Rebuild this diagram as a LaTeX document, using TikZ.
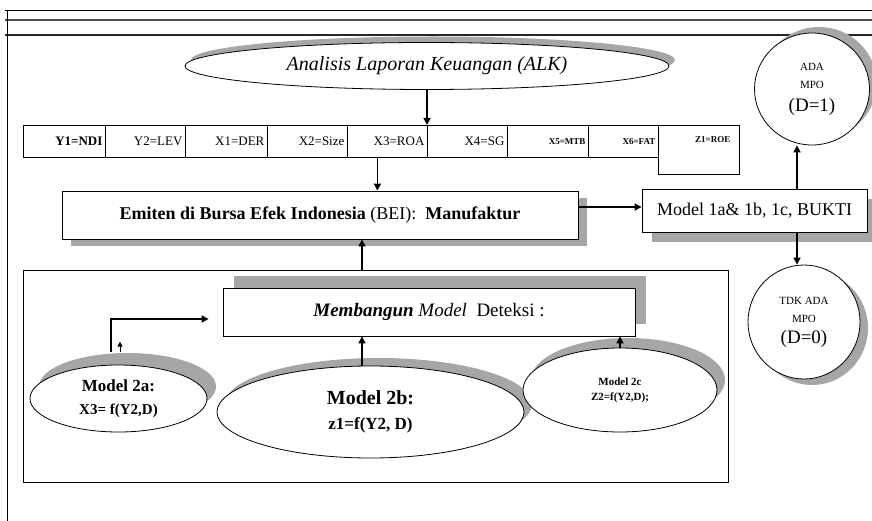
\documentclass[tikz,border=0pt]{standalone}
\usepackage{fontspec}
\setmainfont{Liberation Serif}
\usetikzlibrary{shapes.geometric,shadows,arrows.meta}
\newcommand{\fsz}[2]{\fontsize{#1}{#2}\selectfont}

\begin{document}
\begin{tikzpicture}[x=1pt, y=-1pt,
    box/.style={draw, line width=0.8pt, fill=white, inner sep=0pt},
    oval/.style={ellipse, draw, line width=0.8pt, fill=white, inner sep=0pt, align=center},
    cell/.style={draw, line width=0.8pt, anchor=north west, minimum height=32pt, inner xsep=3pt, align=right},
    arr/.style={line width=1.6pt, -{Triangle[length=7pt, width=7pt]}},
    shd/.style 2 args={drop shadow={shadow xshift=#1, shadow yshift=#2, fill=black!35, opacity=1}},
]
    \useasboundingbox (0,0) rectangle (872,521);
    % frame lines
    \draw[line width=0.6pt] (5,10) -- (872,10);
    \draw[line width=1.2pt, black!70] (5,20) -- (872,20);
    \draw[line width=1.2pt, black!85] (5,35) -- (872,35);
    \draw[line width=0.8pt] (7,10) -- (7,521);
    %
    \node[oval, shd={6pt}{6pt}, minimum width=484pt, minimum height=47pt, font=\itshape\fsz{20}{24}] (alk) at (427,66) {Analisis Laporan Keuangan (ALK)};
    %
    \node[cell, text width=76pt, font=\bfseries\fsz{13}{15}] (cY1) at (23,125) {Y1=NDI};
    \node[cell, text width=74pt, font=\fsz{13}{15}] (cY2) at (105,125) {Y2=LEV};
    \node[cell, text width=76pt, font=\fsz{13}{15}] (cX1) at (185,125) {X1=DER};
    \node[cell, text width=74pt, font=\fsz{13}{15}] (cX2) at (267,125) {X2=Size};
    \node[cell, text width=74pt, font=\fsz{13}{15}] (cX3) at (347,125) {X3=ROA};
    \node[cell, text width=74pt, font=\fsz{13}{15}] (cX4) at (427,125) {X4=SG\hspace*{6pt}};
    \node[cell, text width=75pt, font=\bfseries\fsz{9}{11}] (cX5) at (507,125) {X5=MTB\hspace*{6pt}};
    \node[cell, text width=64pt, font=\bfseries\fsz{9}{11}] (cX6) at (588,125) {X6=FAT};
    \node[cell, text width=75pt, minimum height=49pt,
          label={[anchor=north east, xshift=-6pt, yshift=-8pt, font=\bfseries\fsz{9}{11}]north east:Z1=ROE}] (cZ1) at (658,125) {};
    %
    \node[box, shd={9pt}{-7pt}, minimum width=516pt, minimum height=48pt, font=\fsz{18}{21}] (emiten) at (320,215) {\textbf{Emiten di Bursa Efek Indonesia} (BEI):\ \ \textbf{Manufaktur}};
    \node[box, shd={10pt}{-10pt}, minimum width=225pt, minimum height=43pt, font=\fsz{18}{21}] (mdl1) at (754.5,210.5) {Model 1a\& 1b, 1c, BUKTI};
    \node[oval, shd={7pt}{6pt}, minimum width=115pt, minimum height=112pt, font=\fsz{11}{18}] (ada) at (812,89) {ADA\\MPO\\[5pt]{\fsz{19}{22}(D=1)}};
    \node[oval, shd={8pt}{-6pt}, minimum width=112pt, minimum height=114pt, font=\fsz{11}{18}] (tdk) at (804,322) {TDK ADA\\MPO\\[3pt]{\fsz{19}{22}(D=0)}};
    %
    \node[draw, line width=0.8pt, minimum width=705pt, minimum height=212pt, inner sep=0pt] (bigbox) at (375.5,376) {};
    \node[box, shd={11pt}{12pt}, minimum width=412pt, minimum height=48pt, font=\fsz{19}{22}] (build) at (429,312) {\textbf{\textit{Membangun}} \textit{Model}\ \ Deteksi :};
    \node[oval, shd={9pt}{12pt}, minimum width=177pt, minimum height=67pt, font=\bfseries\fsz{17}{23}] (m2a) at (118.5,398.5) {Model 2a:\\{\fsz{15}{18}X3= f(Y2,D)}};
    \node[oval, shd={8pt}{8pt}, minimum width=307pt, minimum height=92pt, font=\bfseries\fsz{20}{25}] (m2b) at (370.5,412) {Model 2b:\\{\fsz{17}{22}z1=f(Y2, D)}};
    \node[oval, shd={8pt}{10pt}, minimum width=194pt, minimum height=84pt, font=\bfseries\fsz{11}{15}] (m2c) at (620,390) {Model 2c\\Z2=f(Y2,D);};
    %
    \coordinate (c2b) at ([xshift=-8.5pt]m2b.north);
    \draw[arr] (alk.south) -- (alk.south |- cY1.north);
    \draw[arr] ([xshift=-10pt]cX3.south) -- ([xshift=-10pt]cX3.south |- emiten.north);
    \draw[arr] ([yshift=8pt]emiten.east) -- ([yshift=8pt]emiten.east -| mdl1.west);
    \draw[arr] ([xshift=42.5pt]mdl1.north) -- ([xshift=42.5pt]mdl1.north |- ada.south);
    \draw[arr] ([xshift=42.5pt]mdl1.south) -- ([xshift=42.5pt]mdl1.south |- tdk.north);
    \draw[arr] (c2b |- bigbox.north) -- (c2b |- emiten.south);
    \draw[arr] (c2b) -- (c2b |- build.south);
    \draw[arr] (m2c.north) -- (m2c.north |- build.south);
    \draw[arr] ([xshift=-7.5pt, yshift=13pt]m2a.north) |- ([xshift=-14pt, yshift=-7pt]build.west);
    \draw[line width=1pt, -{Triangle[length=5pt, width=5pt]}] ([xshift=1.5pt, yshift=13pt]m2a.north) -- ++(0,-10);
\end{tikzpicture}
\end{document}
